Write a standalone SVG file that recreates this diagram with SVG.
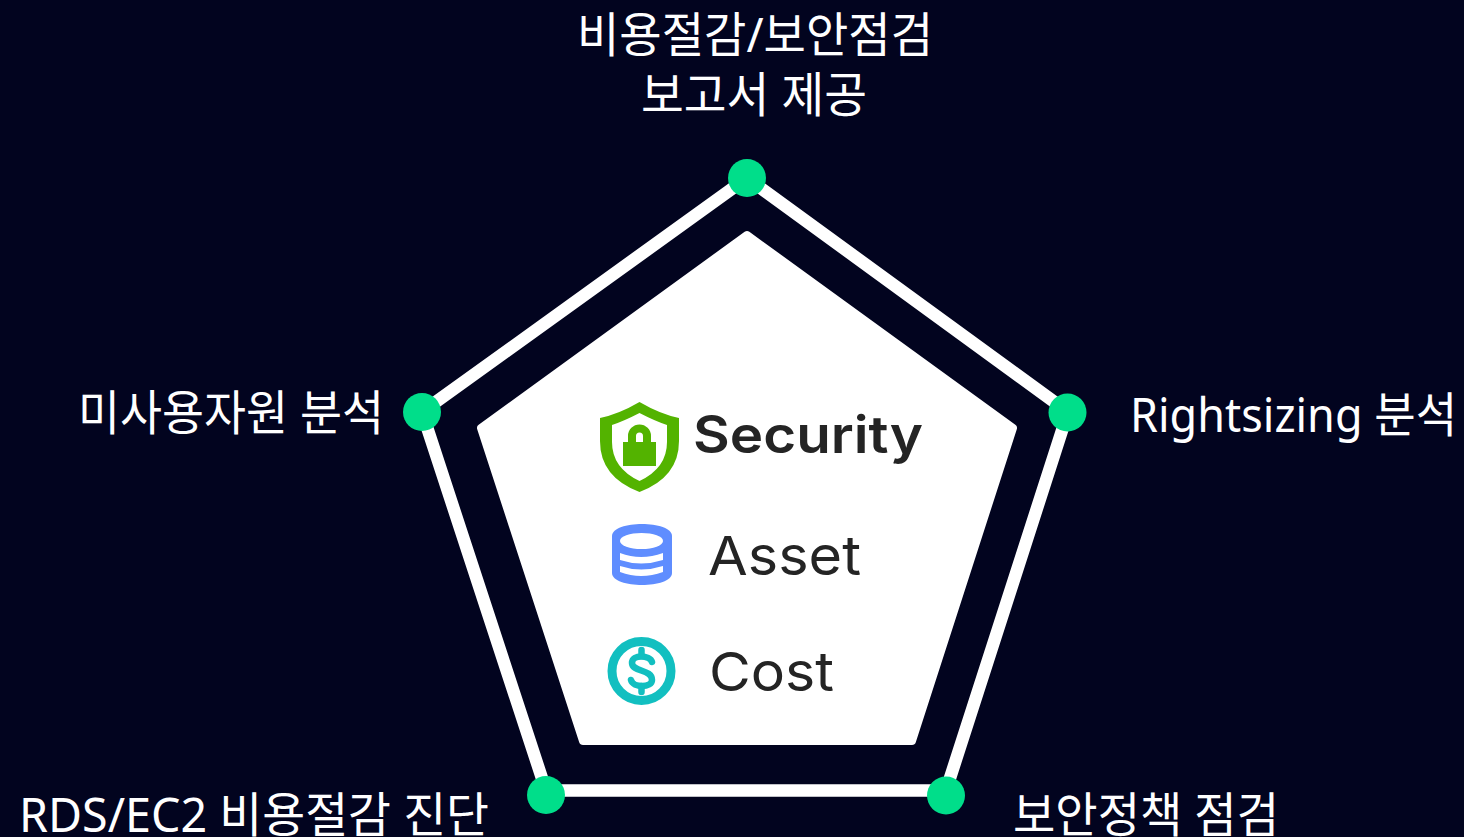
<svg xmlns="http://www.w3.org/2000/svg" width="1464" height="837" viewBox="0 0 1464 837">
<style>
.lb{font-family:"Noto Sans","Noto Sans CJK KR",sans-serif;font-size:48px;fill:#fff;font-weight:400}
.dot{fill:#00de8a}
.cap{font-family:"Inter","Lato",sans-serif;fill:#242424}
</style>
<rect id="background" width="1464" height="837" fill="#02041f"/>
<g id="connectors">
<path d="M747 178 L1068 412 L946 790.500 L546 790.500 L422 412 Z" fill="none" stroke="#fff" stroke-width="12.500" stroke-linejoin="miter"/>
</g>
<g id="core">
<path d="M747 235 L1013 428 L912 741 L583 741 L481 428 Z" fill="#fff" stroke="#fff" stroke-width="8" stroke-linejoin="round"/>
</g>
<g id="security">
<path d="M639.500 402 Q660 414 679 418 L679 441 Q679 477 639.500 492 Q600 477 600 441 L600 418 Q619 414 639.500 402 Z" fill="#53b300"/>
<path d="M639.500 413 Q655 421 667 425 L667 442 Q667 468 639.500 481 Q612 468 612 442 L612 425 Q624 421 639.500 413 Z" fill="#fff"/>
<rect x="623" y="442" width="33" height="24" fill="#53b300"/>
<path d="M628 443 V436 A11.500 11.500 0 0 1 651 436 V443 H643 V436 A3.500 3.500 0 0 0 636 436 V443 Z" fill="#53b300"/>
<text class="cap" x="693" y="453" font-size="52" font-weight="600" textLength="230" lengthAdjust="spacingAndGlyphs">Security</text>
</g>
<g id="asset">
<path d="M612 536 C612 520 672 520 672 536 V573 C672 589 612 589 612 573 Z" fill="#5f8dff"/>
<ellipse cx="641.500" cy="541" rx="21.500" ry="8" fill="#fff"/>
<path d="M620 553 Q641 561 663 553 V560 Q641 567 620 560 Z" fill="#fff"/>
<path d="M620 566 Q641 573 663 566 V572 Q641 580 620 572 Z" fill="#fff"/>
<text class="cap" x="708" y="575" font-size="54" font-weight="400" textLength="153" lengthAdjust="spacingAndGlyphs">Asset</text>
</g>
<g id="cost">
<circle cx="641.500" cy="671" r="29.500" fill="#fff" stroke="#12bfc0" stroke-width="9"/>
<path d="M652 662 C650 655 632 654 632 663 C632 672 652 669 652 680 C652 688 633 688 631 680" fill="none" stroke="#12bfc0" stroke-width="6.500" stroke-linecap="round"/>
<path d="M641.500 650 V656 M641.500 686 V692" stroke="#12bfc0" stroke-width="6.500" stroke-linecap="round"/>
<text class="cap" x="709" y="691" font-size="54" font-weight="400" textLength="125" lengthAdjust="spacingAndGlyphs">Cost</text>
</g>
<g id="node-top">
<circle class="dot" cx="747" cy="178" r="19"/>
<text class="lb" x="755" y="52" text-anchor="middle" textLength="356" lengthAdjust="spacingAndGlyphs">비용절감/보안점검</text>
<text class="lb" x="754" y="112" text-anchor="middle" textLength="226" lengthAdjust="spacingAndGlyphs">보고서 제공</text>
</g>
<g id="node-right">
<circle class="dot" cx="1067.500" cy="412.500" r="19"/>
<text class="lb" x="1130" y="432" textLength="327" lengthAdjust="spacingAndGlyphs">Rightsizing 분석</text>
</g>
<g id="node-bottom-right">
<circle class="dot" cx="946" cy="795.500" r="19"/>
<text class="lb" x="1013" y="832" textLength="266" lengthAdjust="spacingAndGlyphs">보안정책 점검</text>
</g>
<g id="node-bottom-left">
<circle class="dot" cx="546" cy="795" r="19"/>
<text class="lb" x="19" y="832" textLength="470" lengthAdjust="spacingAndGlyphs">RDS/EC2 비용절감 진단</text>
</g>
<g id="node-left">
<circle class="dot" cx="422" cy="412" r="19"/>
<text class="lb" x="78" y="430" textLength="306" lengthAdjust="spacingAndGlyphs">미사용자원 분석</text>
</g>
</svg>
